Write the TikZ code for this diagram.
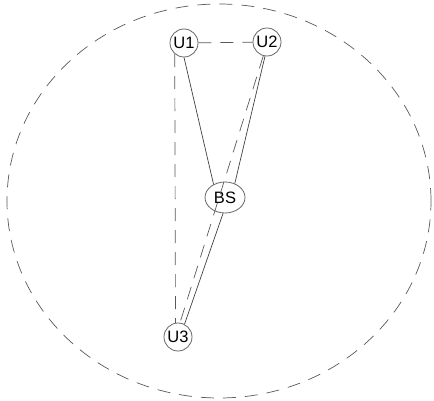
\documentclass[tikz,border=0pt]{standalone}
\usepackage{fontspec}
\setmainfont{Liberation Sans}
\usetikzlibrary{shapes.geometric}
\begin{document}
\begin{tikzpicture}[x=1pt,y=-1pt,
  user/.style={circle,draw=black!60,line width=0.8pt,minimum size=28pt,inner sep=0pt,font=\fontsize{16.5}{16.5}\selectfont},
  base/.style={ellipse,draw=black!60,line width=0.8pt,minimum width=40pt,minimum height=31pt,inner sep=0pt,font=\fontsize{16.5}{16.5}\selectfont},
  link/.style={draw=black!75,line width=0.7pt},
  dlink/.style={draw=black!65,line width=0.7pt,dash pattern=on 13pt off 9pt},
]
\useasboundingbox (0,0) rectangle (434,401);
\draw[black!65,line width=0.7pt,dash pattern=on 13pt off 9pt] (219,201) ellipse [x radius=212pt, y radius=197pt];
\node[user] (U1) at (184,43) {U1};
\node[user] (U2) at (267,42) {U2};
\node[base] (BS) at (225,197.5) {BS};
\node[user] (U3) at (178,337) {U3};
\draw[link] (U1.270) -- (BS.131);
\draw[link] (U2.262) -- (BS.55);
\draw[link] (BS.263) -- (U3.63);
\draw[dlink] (U1) -- (U2);
\draw[dlink] (U1.230) -- (U3.100);
\draw[dlink] (U2.255) -- (U3.82);
\end{tikzpicture}
\end{document}
